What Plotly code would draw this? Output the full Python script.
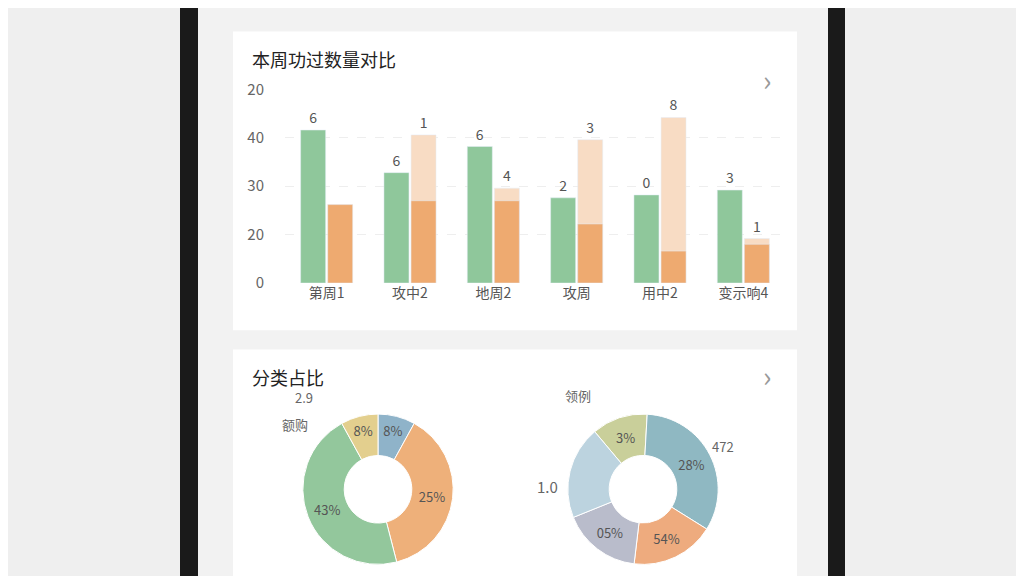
import plotly.graph_objects as go

cats = ["第周1", "攻中2", "地周2", "攻周", "用中2", "变示响4"]
green = [31.6, 22.8, 28.2, 17.6, 18.2, 19.2]
orange = [16.2, 17.0, 17.0, 12.2, 6.6, 8.0]
peach = [0, 30.6, 19.6, 29.6, 34.2, 9.2]
green_lbl = ["6", "6", "6", "2", "0", "3"]
peach_lbl = ["1", "1", "4", "3", "8", "1"]
ytick_vals = [0, 10, 20, 30, 40]
ytick_text = ["0", "20", "30", "40", "20"]

pie1_labels = ["A", "B", "C", "D"]
pie1_vals = [8, 38, 46, 8]
pie1_text = ["8%", "25%", "43%", "8%"]
pie1_cols = ["#8fb3c9", "#eeb07a", "#93c79c", "#e3cf8e"]
pie2_labels = ["A", "B", "C", "D", "E"]
pie2_vals = [12, 33, 18, 17, 20]
pie2_text = ["3%", "28%", "54%", "05%", ""]
pie2_cols = ["#c9cf9a", "#8fb8c2", "#eeab7e", "#b9bccb", "#bcd3df"]

W, H = 1024, 576
OFF = 8
def px(x): return (x - OFF) / W
def py(y): return 1 - (y - OFF) / H

fig = go.Figure()
fig.add_bar(x=cats, y=green, offsetgroup="g", marker_color="#8fc79b", text=green_lbl,
            textposition="outside", textfont=dict(size=14, color="#555"), cliponaxis=False, width=0.3)
fig.add_bar(x=cats, y=peach, offsetgroup="o", marker_color="#f8dcc4", text=peach_lbl,
            textposition="outside", textfont=dict(size=14, color="#555"), cliponaxis=False, width=0.3)
fig.add_bar(x=cats, y=orange, offsetgroup="o", marker_color="#eeaa70", width=0.3)
fig.add_pie(labels=pie1_labels, values=pie1_vals, text=pie1_text, textinfo="text", hole=0.45,
            sort=False, direction="clockwise", marker=dict(colors=pie1_cols, line=dict(color="white", width=1)),
            domain=dict(x=[px(300), px(456)], y=[py(573), py(417)]), textfont=dict(size=13, color="#555"),
            showlegend=False)
fig.add_pie(labels=pie2_labels, values=pie2_vals, text=pie2_text, textinfo="text", hole=0.45,
            sort=False, direction="clockwise", rotation=-40,
            marker=dict(colors=pie2_cols, line=dict(color="white", width=1)),
            domain=dict(x=[px(565), px(721)], y=[py(573), py(417)]), textfont=dict(size=13, color="#555"),
            showlegend=False)

shapes = [
    dict(type="rect", xref="paper", yref="paper", x0=px(180), x1=px(845), y0=-0.05, y1=1.05,
         fillcolor="#1a1a1a", line_width=0, layer="below"),
    dict(type="rect", xref="paper", yref="paper", x0=px(198), x1=px(828), y0=-0.05, y1=1.05,
         fillcolor="#f2f2f2", line_width=0, layer="below"),
    dict(type="rect", xref="paper", yref="paper", x0=px(233), x1=px(797), y0=py(330), y1=py(20),
         fillcolor="white", line_width=0, layer="below"),
    dict(type="rect", xref="paper", yref="paper", x0=px(233), x1=px(797), y0=-0.05, y1=py(350),
         fillcolor="white", line_width=0, layer="below"),
]
ann = [
    dict(text="本周功过数量对比", x=px(250), y=py(48), xanchor="left", yanchor="middle",
         font=dict(size=18, color="#222")),
    dict(text="分类占比", x=px(250), y=py(378), xanchor="left", yanchor="middle",
         font=dict(size=18, color="#222")),
    dict(text="›", x=px(773), y=py(46), font=dict(size=28, color="#999")),
    dict(text="›", x=px(773), y=py(376), font=dict(size=28, color="#999")),
    dict(text="2.9", x=px(293), y=py(412), font=dict(size=13, color="#666")),
    dict(text="额购", x=px(280), y=py(440), font=dict(size=13, color="#666")),
    dict(text="领例", x=px(578), y=py(410), font=dict(size=13, color="#666")),
    dict(text="472", x=px(736), y=py(463), font=dict(size=13, color="#666")),
    dict(text="1.0", x=px(547), y=py(505), font=dict(size=15, color="#666")),
]
for a in ann:
    a.update(xref="paper", yref="paper", showarrow=False)

fig.update_layout(
    width=W, height=H, margin=dict(l=0, r=0, t=0, b=0),
    paper_bgcolor="#efefef", plot_bgcolor="rgba(0,0,0,0)",
    font=dict(family="Noto Sans CJK SC", color="#555"),
    barmode="group", bargap=0.35, showlegend=False,
    xaxis=dict(domain=[px(285), px(785)], tickfont=dict(size=14, color="#555"), showline=False),
    yaxis=dict(domain=[py(281), py(80)], range=[0, 40], tickvals=ytick_vals, ticktext=ytick_text,
               tickfont=dict(size=15, color="#666"), gridcolor="#eeeeee", griddash="dash",
               zeroline=False, ticklabelstandoff=20),
    shapes=shapes, annotations=ann,
)
fig.write_html("out.html")
